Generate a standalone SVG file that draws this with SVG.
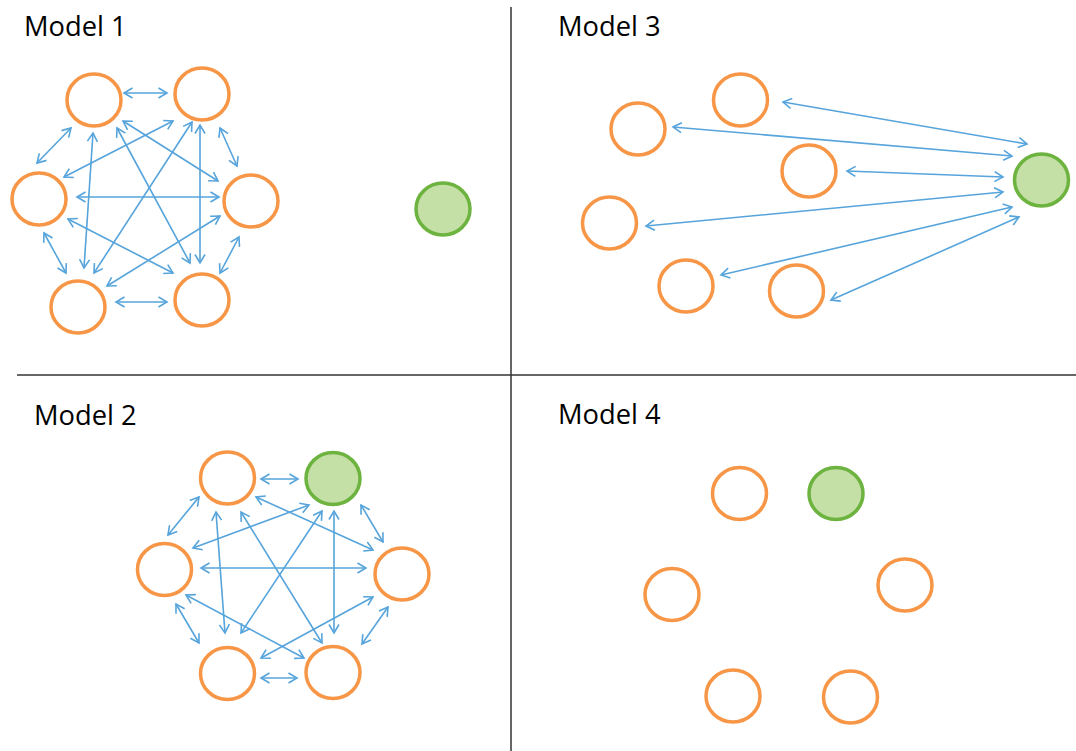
<svg xmlns="http://www.w3.org/2000/svg" width="1076" height="751" viewBox="0 0 1076 751">
<style>
.o{fill:none;stroke:#F79646;stroke-width:3.5}
.g{fill:#C5E0A6;stroke:#6DB33F;stroke-width:3.5}
.c line{stroke:#56A4DB;stroke-width:1.6;marker-start:url(#ah);marker-end:url(#ah)}
.t{font-family:"Open Sans","Noto Sans",sans-serif;font-size:27.3px;fill:#000}
.d{stroke:#333;stroke-width:1.5}
</style>
<defs>
<marker id="ah" viewBox="-11 -7 13 14" refX="0" refY="0" markerWidth="13" markerHeight="14" markerUnits="userSpaceOnUse" orient="auto-start-reverse">
<path d="M-8.5,-5 L0,0 L-8.5,5" fill="none" stroke="#56A4DB" stroke-width="1.6"/>
</marker>
</defs>
<rect width="1076" height="751" fill="#fff"/>
<g id="dividers">
<line class="d" x1="511" y1="7" x2="511" y2="751"/>
<line class="d" x1="17" y1="375" x2="1076" y2="375"/>
</g>
<g id="titles">
<text class="t" x="24" y="36">Model 1</text>
<text class="t" x="558" y="36">Model 3</text>
<text class="t" x="34" y="425">Model 2</text>
<text class="t" x="558" y="424">Model 4</text>
</g>
<g id="connectors">
<g class="c" id="m1-connectors">
<line x1="124" y1="93" x2="167" y2="93"/>
<line x1="71" y1="128" x2="37" y2="163"/>
<line x1="220" y1="128" x2="237" y2="166"/>
<line x1="44" y1="233" x2="66" y2="273"/>
<line x1="239" y1="237" x2="220" y2="273"/>
<line x1="116" y1="302" x2="167" y2="302"/>
<line x1="77" y1="197" x2="219" y2="197"/>
<line x1="93" y1="133" x2="84" y2="268"/>
<line x1="200" y1="125" x2="200" y2="263"/>
<line x1="64" y1="177" x2="173" y2="121"/>
<line x1="68" y1="219" x2="173" y2="273"/>
<line x1="123" y1="121" x2="218" y2="181"/>
<line x1="117" y1="128" x2="190" y2="263"/>
<line x1="192" y1="122" x2="94" y2="273"/>
<line x1="220" y1="216" x2="107" y2="286"/>
</g>
<g class="c" id="m2-connectors">
<line x1="261" y1="479" x2="298" y2="479"/>
<line x1="199" y1="497" x2="168" y2="535"/>
<line x1="361" y1="505" x2="383" y2="542"/>
<line x1="176" y1="604" x2="199" y2="643"/>
<line x1="388" y1="607" x2="362" y2="644"/>
<line x1="261" y1="678" x2="297" y2="678"/>
<line x1="201" y1="568" x2="366" y2="568"/>
<line x1="216" y1="512" x2="225" y2="633"/>
<line x1="334" y1="511" x2="334" y2="633"/>
<line x1="193" y1="548" x2="309" y2="505"/>
<line x1="186" y1="595" x2="304" y2="658"/>
<line x1="256" y1="497" x2="373" y2="550"/>
<line x1="241" y1="512" x2="322" y2="643"/>
<line x1="322" y1="511" x2="241" y2="633"/>
<line x1="373" y1="597" x2="261" y2="658"/>
</g>
<g class="c" id="m3-connectors">
<line x1="783" y1="102" x2="1027" y2="144"/>
<line x1="673" y1="127" x2="1012" y2="156"/>
<line x1="847" y1="171" x2="1003" y2="177"/>
<line x1="646" y1="226" x2="1003" y2="192"/>
<line x1="721" y1="275" x2="1012" y2="207"/>
<line x1="831" y1="300" x2="1019" y2="217"/>
</g>
</g>
<g id="m1-n1"><ellipse class="o" cx="94" cy="100" rx="27" ry="26"/></g>
<g id="m1-n2"><ellipse class="o" cx="202" cy="94" rx="27" ry="26"/></g>
<g id="m1-n3"><ellipse class="o" cx="39" cy="199" rx="27" ry="26"/></g>
<g id="m1-n4"><ellipse class="o" cx="251" cy="201" rx="27" ry="26"/></g>
<g id="m1-n5"><ellipse class="o" cx="78" cy="307" rx="27" ry="26"/></g>
<g id="m1-n6"><ellipse class="o" cx="202" cy="300" rx="27" ry="26"/></g>
<g id="m1-g"><ellipse class="g" cx="443" cy="209" rx="27" ry="26"/></g>
<g id="m2-n1"><ellipse class="o" cx="227.5" cy="478" rx="27" ry="26"/></g>
<g id="m2-g"><ellipse class="g" cx="333" cy="478.5" rx="27" ry="26"/></g>
<g id="m2-n3"><ellipse class="o" cx="164.5" cy="569.5" rx="27" ry="26"/></g>
<g id="m2-n4"><ellipse class="o" cx="402" cy="574" rx="27" ry="26"/></g>
<g id="m2-n5"><ellipse class="o" cx="227.5" cy="673.5" rx="27" ry="26"/></g>
<g id="m2-n6"><ellipse class="o" cx="333" cy="672.5" rx="27" ry="26"/></g>
<g id="m3-n1"><ellipse class="o" cx="740.5" cy="100" rx="27" ry="26"/></g>
<g id="m3-n2"><ellipse class="o" cx="638" cy="129" rx="27" ry="26"/></g>
<g id="m3-n3"><ellipse class="o" cx="809" cy="171" rx="27" ry="26"/></g>
<g id="m3-n4"><ellipse class="o" cx="609.5" cy="223" rx="27" ry="26"/></g>
<g id="m3-n5"><ellipse class="o" cx="686" cy="286" rx="27" ry="26"/></g>
<g id="m3-n6"><ellipse class="o" cx="796.5" cy="291" rx="27" ry="26"/></g>
<g id="m3-g"><ellipse class="g" cx="1041.5" cy="180" rx="27" ry="26"/></g>
<g id="m4-n1"><ellipse class="o" cx="739.5" cy="493.5" rx="27" ry="26"/></g>
<g id="m4-g"><ellipse class="g" cx="836" cy="493.5" rx="27" ry="26"/></g>
<g id="m4-n3"><ellipse class="o" cx="672" cy="594.5" rx="27" ry="26"/></g>
<g id="m4-n4"><ellipse class="o" cx="905" cy="585" rx="27" ry="26"/></g>
<g id="m4-n5"><ellipse class="o" cx="733" cy="696" rx="27" ry="26"/></g>
<g id="m4-n6"><ellipse class="o" cx="850.5" cy="697" rx="27" ry="26"/></g>
</svg>
